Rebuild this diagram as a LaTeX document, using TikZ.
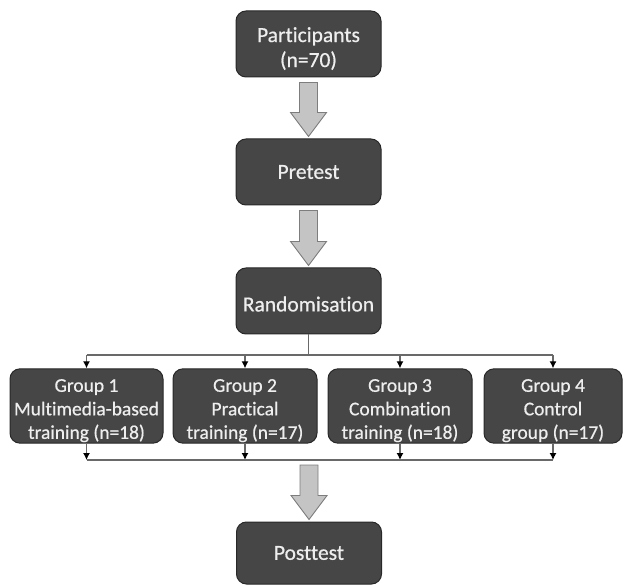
\documentclass[tikz,border=0pt]{standalone}
\usepackage{fontspec}
\setmainfont{Carlito}
\newfontfamily\boxfont{Carlito}[FakeBold=0.6, Ligatures=NoCommon]
\usetikzlibrary{calc,arrows.meta}
\definecolor{boxfill}{RGB}{70,70,70}
\definecolor{boxdraw}{RGB}{40,40,40}
\definecolor{boxtext}{RGB}{238,238,238}
\definecolor{garrowfill}{RGB}{196,196,196}
\definecolor{garrowdraw}{RGB}{125,125,125}
\definecolor{linecol}{RGB}{105,105,105}
\tikzset{
  mainbox/.style={draw=boxdraw, line width=1pt, fill=boxfill, rounded corners=10pt,
    text=boxtext, align=center, minimum width=145pt, minimum height=66pt, inner sep=2pt,
    font=\boxfont\fontsize{21.5}{25}\selectfont},
  groupbox/.style={draw=boxdraw, line width=1pt, fill=boxfill, rounded corners=10pt,
    text=boxtext, align=center, minimum height=67pt, inner sep=1pt,
    font=\boxfont\fontsize{19.5}{23.5}\selectfont},
  garrow/.style={fill=garrowfill, draw=garrowdraw, line width=0.9pt},
  conn/.style={draw=linecol, line width=1.2pt},
  tip/.style={-{Latex[length=7pt,width=7pt,fill=black,color=black]}}
}
\newcommand\grayarrow[2]{%
  \path[garrow] ($(#1)+(-9,5)$) -- ($(#1)+(9,5)$) -- ($(#2)+(9,-26)$) -- ($(#2)+(18,-26)$)
    -- ($(#2)+(0,-2)$) -- ($(#2)+(-18,-26)$) -- ($(#2)+(-9,-26)$) -- cycle;}
\begin{document}
\begin{tikzpicture}[x=1pt,y=-1pt]
\useasboundingbox (0,0) rectangle (624,585);
\node[mainbox] (part) at (308.5,44) {\rule{0pt}{24pt}Participants\\(n=70)};
\node[mainbox] (pre) at (308.5,172) {Pretest};
\node[mainbox] (rand) at (308.5,301) {\rule{0pt}{21pt}Randomisat\kern0pt ion};
\node[groupbox, minimum width=153pt] (g1) at (86.5,406) {\rule{0pt}{22pt}Group 1\\Multimedia-based\\training (n=18)};
\node[groupbox, minimum width=144pt] (g2) at (245,406) {\rule{0pt}{22pt}Group 2\\Practical\\training (n=17)};
\node[groupbox, minimum width=144pt] (g3) at (400,406) {\rule{0pt}{22pt}Group 3\\Combinat\kern0pt ion\\training (n=18)};
\node[groupbox, minimum width=138pt] (g4) at (553,406) {\rule{0pt}{22pt}Group 4\\Control\\group (n=17)};
\node[mainbox, minimum height=62pt] (post) at (309,553) {Posttest};
\coordinate (split) at (308.5,355);
\coordinate (join) at (309,460);
% gray arrows
\grayarrow{part.south}{pre.north}
\grayarrow{pre.south}{rand.north}
\grayarrow{join}{post.north}
% split connectors
\draw[conn] (rand.south) -- (split);
\draw[conn] (g1.north |- split) -- (g4.north |- split);
\foreach \g in {g1,g2,g3,g4}{
  \draw[conn, tip] (\g.north |- split) -- (\g.north);
  \draw[conn, tip] (\g.south) -- (\g.south |- join);
}
\draw[conn] (g1.south |- join) -- (g4.south |- join);
\end{tikzpicture}
\end{document}
